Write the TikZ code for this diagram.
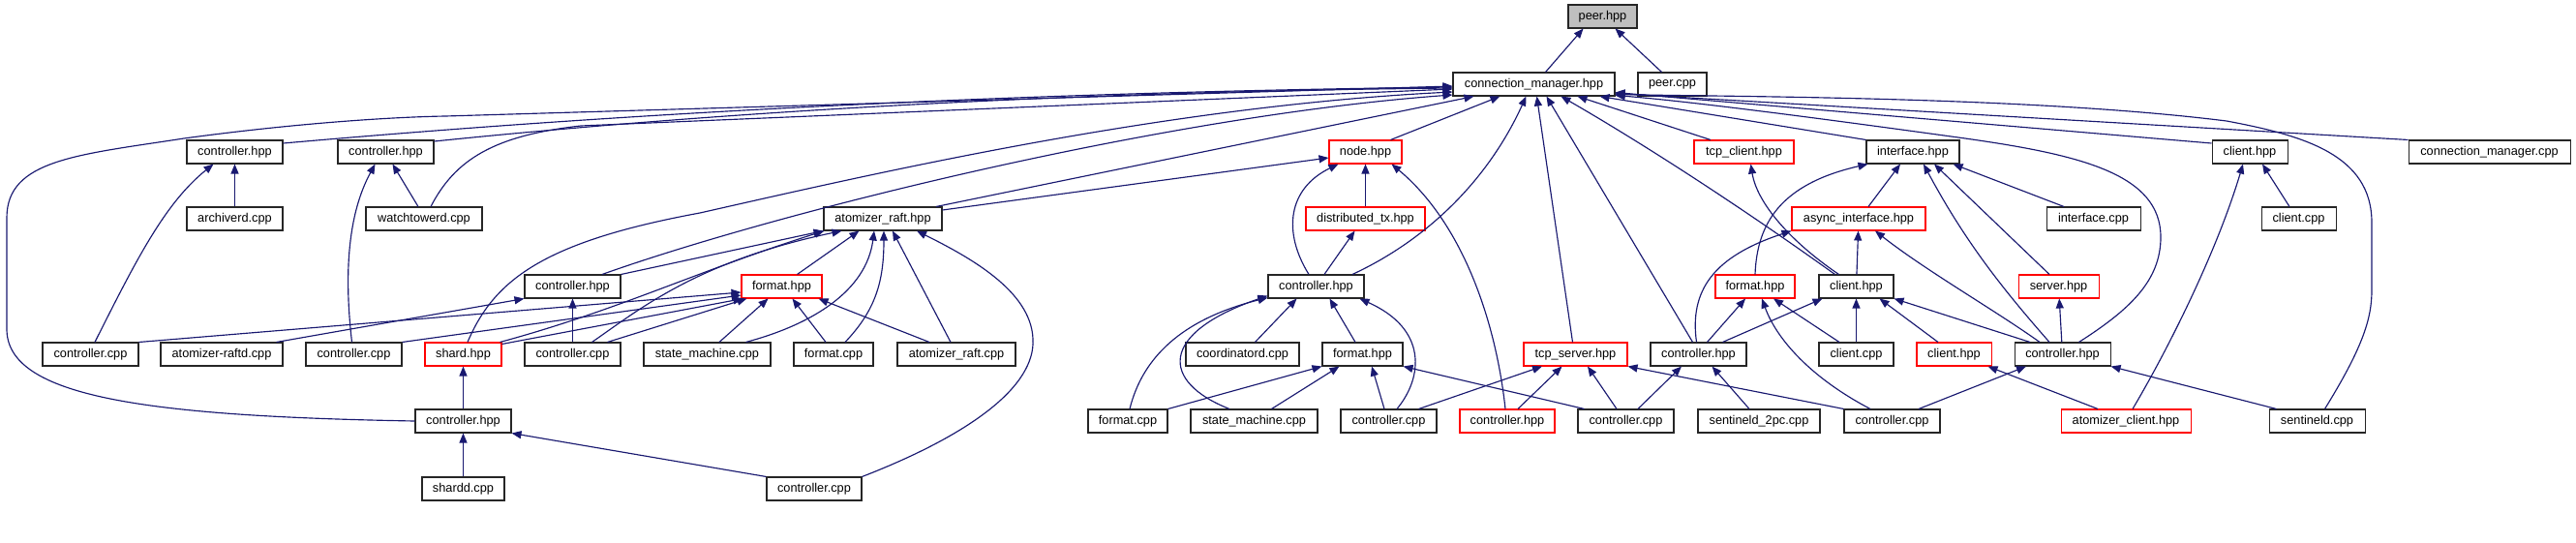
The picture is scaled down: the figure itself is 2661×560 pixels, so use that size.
\documentclass[tikz,border=0pt]{standalone}
\usepackage{fontspec}
\setmainfont{Liberation Sans}
\usetikzlibrary{arrows.meta}
\definecolor{edgeblue}{HTML}{191970}
\definecolor{truncred}{HTML}{FF0000}
\definecolor{rootgray}{HTML}{BFBFBF}
\tikzset{
  box/.style={draw=black!85, line width=1.05pt, fill=white, minimum height=24pt, inner sep=0pt, font={\fontsize{12.75}{15}\selectfont}},
  trunc/.style={box, draw=truncred},
  dep/.style={draw=edgeblue, line width=1.15pt, -{Triangle[length=10pt,width=8pt]}}
}
\begin{document}
\begin{tikzpicture}[x=1pt,y=-1pt]
\useasboundingbox (0,0) rectangle (2661,560);
% row 0/1
\node[box,minimum width=71pt,fill=rootgray] (peer) at (1655.5,17) {peer.hpp};
\node[box,minimum width=167pt] (cm) at (1584.5,87) {connection\_manager.hpp};
\node[box,minimum width=71pt] (peercpp) at (1727.5,87) {peer.cpp};
% row 2
\node[box,minimum width=99pt] (ctrlA1) at (242.5,157) {controller.hpp};
\node[box,minimum width=99pt] (ctrlA2) at (398.5,157) {controller.hpp};
\node[trunc,minimum width=75pt] (nodehpp) at (1410.5,157) {node.hpp};
\node[trunc,minimum width=103pt] (tcpclient) at (1801.5,157) {tcp\_client.hpp};
\node[box,minimum width=96pt] (iface) at (1976,157) {interface.hpp};
\node[box,minimum width=78pt] (clientA) at (2324,157) {client.hpp};
\node[box,minimum width=167pt] (cmcpp) at (2571.5,157) {connection\_manager.cpp};
% row 3
\node[box,minimum width=99pt] (archiverd) at (242.5,226) {archiverd.cpp};
\node[box,minimum width=120pt] (watchtowerd) at (438,226) {watchtowerd.cpp};
\node[box,minimum width=122pt] (araft) at (912,226) {atomizer\_raft.hpp};
\node[trunc,minimum width=123pt] (dtx) at (1410.5,226) {distributed\_tx.hpp};
\node[trunc,minimum width=138pt] (async) at (1920,226) {async\_interface.hpp};
\node[box,minimum width=97pt] (ifacecpp) at (2162.5,226) {interface.cpp};
\node[box,minimum width=77pt] (clientcppA) at (2374.5,226) {client.cpp};
% row 4
\node[box,minimum width=99pt] (ctrlR) at (591.5,296) {controller.hpp};
\node[trunc,minimum width=83pt] (fmtR) at (807.5,296) {format.hpp};
\node[box,minimum width=99pt] (ctrlC) at (1359.5,296) {controller.hpp};
\node[trunc,minimum width=82pt] (fmtS) at (1813,296) {format.hpp};
\node[box,minimum width=77pt] (clientB) at (1917.5,296) {client.hpp};
\node[trunc,minimum width=83pt] (server) at (2126.5,296) {server.hpp};
% row 5
\node[box,minimum width=99pt] (ccppArch) at (93.5,366) {controller.cpp};
\node[box,minimum width=126pt] (raftd) at (229,366) {atomizer-raftd.cpp};
\node[box,minimum width=99pt] (ccppWatch) at (365.5,366) {controller.cpp};
\node[trunc,minimum width=79pt] (shard) at (478.5,366) {shard.hpp};
\node[box,minimum width=99pt] (ccppR) at (591.5,366) {controller.cpp};
\node[box,minimum width=131pt] (smR) at (730.5,366) {state\_machine.cpp};
\node[box,minimum width=82pt] (fmtcppR) at (861,366) {format.cpp};
\node[box,minimum width=122pt] (raftcpp) at (988,366) {atomizer\_raft.cpp};
\node[box,minimum width=117pt] (coord) at (1283.5,366) {coordinatord.cpp};
\node[box,minimum width=83pt] (fmtC) at (1407.5,366) {format.hpp};
\node[trunc,minimum width=107pt] (tcpserver) at (1627.5,366) {tcp\_server.hpp};
\node[box,minimum width=99pt] (ctrlS) at (1754.5,366) {controller.hpp};
\node[box,minimum width=77pt] (clientcppB) at (1917.5,366) {client.cpp};
\node[trunc,minimum width=77pt] (clientR) at (2018.5,366) {client.hpp};
\node[box,minimum width=99pt] (ctrlI) at (2130.5,366) {controller.hpp};
% row 6
\node[box,minimum width=99pt] (ctrlSh) at (478.5,435) {controller.hpp};
\node[box,minimum width=82pt] (fmtcppC) at (1165,435) {format.cpp};
\node[box,minimum width=131pt] (smC) at (1295.5,435) {state\_machine.cpp};
\node[box,minimum width=99pt] (ccppC) at (1434.5,435) {controller.cpp};
\node[trunc,minimum width=98pt] (ctrlRed) at (1557,435) {controller.hpp};
\node[box,minimum width=99pt] (ccppT) at (1679.5,435) {controller.cpp};
\node[box,minimum width=126pt] (sent2pc) at (1817,435) {sentineld\_2pc.cpp};
\node[box,minimum width=99pt] (ccppS) at (1954.5,435) {controller.cpp};
\node[trunc,minimum width=134pt] (atomclient) at (2196,435) {atomizer\_client.hpp};
\node[box,minimum width=99pt] (sentineld) at (2393.5,435) {sentineld.cpp};
% row 7
\node[box,minimum width=85pt] (shardd) at (478.5,505) {shardd.cpp};
\node[box,minimum width=98pt] (ccppSh) at (841,505) {controller.cpp};

% edges to peer.hpp
\draw[dep] ([xshift=12pt]cm.north) -- ([xshift=-20pt]peer.south);
\draw[dep] ([xshift=-11pt]peercpp.north) -- ([xshift=13pt]peer.south);
% edges to connection_manager.hpp
\draw[dep] ([yshift=9pt]ctrlA1.east) .. controls (700,112) and (1100,95) .. ([yshift=-3pt]cm.west);
\draw[dep] ([yshift=11pt]ctrlA2.east) .. controls (750,115) and (1100,95) .. ([yshift=-4pt]cm.west);
\draw[dep] (ctrlSh.west) .. controls (150,430) and (7,410) .. (7,340) -- (7,225) .. controls (7,165) and (80,160) .. (190,143) .. controls (300,128) and (400,121) .. (460,120) -- ([yshift=-2pt]cm.west);
\draw[dep] ([xshift=7pt]watchtowerd.north) .. controls (470,165) and (510,140) .. (600,130) -- ([yshift=-5pt]cm.west);
\draw[dep] ([xshift=4.5pt]shard.north) .. controls (510,290) and (560,250) .. (723,220) .. controls (900,180) and (1200,110) .. ([yshift=-8pt]cm.west);
\draw[dep] ([xshift=30.5pt]ctrlR.north) .. controls (800,220) and (1200,120) .. ([yshift=-11pt]cm.west);
\draw[dep] ([xshift=55pt]araft.north) -- ([xshift=22pt]cm.south west);
\draw[dep] ([xshift=26pt]nodehpp.north) -- ([xshift=49pt]cm.south west);
\draw[dep] ([xshift=37.5pt]ctrlC.north) .. controls (1480,245) and (1540,180) .. ([xshift=76pt]cm.south west);
\draw[dep] ([xshift=-3pt]tcpserver.north) -- ([xshift=87pt]cm.south west);
\draw[dep] ([xshift=-6pt]ctrlS.north) -- ([xshift=97pt]cm.south west);
\draw[dep] ([xshift=-22pt]clientB.north) .. controls (1800,215) and (1700,150) .. ([xshift=112pt]cm.south west);
\draw[dep] ([xshift=-34.5pt]tcpclient.north) -- ([xshift=129pt]cm.south west);
\draw[dep] (iface.north west) -- ([xshift=152pt]cm.south west);
\draw[dep] ([xshift=17pt]ctrlI.north) .. controls (2200,320) and (2232,290) .. (2232,245) .. controls (2232,180) and (2150,160) .. (2030,143) .. controls (1900,125) and (1750,105) .. ([yshift=1pt]cm.south east);
\draw[dep] ([xshift=8pt]sentineld.north) .. controls (2440,360) and (2450,330) .. (2450,300) -- (2450,230) .. controls (2450,160) and (2380,140) .. (2300,125) .. controls (2100,100) and (1800,100) .. ([yshift=2pt]cm.south east);
\draw[dep] (cmcpp.north west) -- ([yshift=3pt]cm.south east);
\draw[dep] ([yshift=9pt]clientA.west) -- ([yshift=4pt]cm.south east);
% left group
\draw[dep] (archiverd) -- (ctrlA1);
\draw[dep] ([xshift=4.5pt]ccppArch.north) .. controls (140,270) and (170,210) .. ([xshift=-22pt]ctrlA1.south);
\draw[dep] ([xshift=-2pt]ccppWatch.north) .. controls (355,280) and (360,220) .. ([xshift=-11pt]ctrlA2.south);
\draw[dep] ([xshift=-6pt]watchtowerd.north) -- ([xshift=7pt]ctrlA2.south);
% atomizer_raft.hpp
\draw[dep] (ctrlR.north east) -- (araft.south west);
\draw[dep] ([xshift=-2pt]shard.north east) .. controls (640,320) and (720,280) .. ([xshift=1pt]araft.south west);
\draw[dep] ([xshift=20pt]ccppR.north) .. controls (660,320) and (720,270) .. ([xshift=19pt]araft.south west);
\draw[dep] ([xshift=16pt]fmtR.north) -- ([xshift=37pt]araft.south west);
\draw[dep] ([xshift=40pt]smR.north) .. controls (840,335) and (895,300) .. ([xshift=-9pt]araft.south);
\draw[dep] ([xshift=12pt]fmtcppR.north) .. controls (905,320) and (913,290) .. ([xshift=1pt]araft.south);
\draw[dep] ([xshift=-6pt]raftcpp.north) -- ([xshift=10pt]araft.south);
\draw[dep] (ccppSh.north east) .. controls (1000,450) and (1070,400) .. (1067,350) .. controls (1065,300) and (1000,265) .. ([xshift=35pt]araft.south);
\draw[dep] ([yshift=9pt]araft.east) -- ([yshift=-6pt]nodehpp.west);
% raft controller / format
\draw[dep] ([xshift=-7pt]raftd.north east) -- (ctrlR.south west);
\draw[dep] (ccppR) -- (ctrlR);
\draw[dep] (ccppArch.north east) -- ([yshift=-6pt]fmtR.west);
\draw[dep] (ccppWatch.north east) -- ([yshift=-9pt]fmtR.west);
\draw[dep] ([yshift=-2pt]shard.north east) -- ([xshift=2pt]fmtR.south west);
\draw[dep] ([xshift=36pt]ccppR.north) -- ([xshift=6pt]fmtR.south west);
\draw[dep] ([xshift=12.5pt]smR.north) -- ([xshift=-14pt]fmtR.south);
\draw[dep] ([xshift=-8pt]fmtcppR.north) -- ([xshift=11pt]fmtR.south);
\draw[dep] ([xshift=-28pt]raftcpp.north) -- ([xshift=-4pt]fmtR.south east);
% shard
\draw[dep] (ctrlSh) -- (shard);
\draw[dep] (shardd) -- (ctrlSh);
\draw[dep] (ccppSh.north west) -- (ctrlSh.south east);
% node.hpp group
\draw[dep] (dtx) -- (nodehpp);
\draw[dep] ([xshift=-7.5pt]ctrlC.north) .. controls (1325,240) and (1330,195) .. ([xshift=-28pt]nodehpp.south);
\draw[dep] ([xshift=-2pt]ctrlRed.north) .. controls (1545,330) and (1510,230) .. ([xshift=27pt]nodehpp.south);
\draw[dep] ([xshift=8.5pt]ctrlC.north) -- ([xshift=-11pt]dtx.south);
\draw[dep] ([xshift=13pt]coord.north) -- ([xshift=-20pt]ctrlC.south);
\draw[dep] ([xshift=-7.5pt]fmtC.north) -- ([xshift=14pt]ctrlC.south);
\draw[dep] ([xshift=8.5pt]ccppC.north) .. controls (1470,390) and (1475,340) .. ([xshift=45pt]ctrlC.south);
\draw[dep] ([xshift=2pt]fmtcppC.north) .. controls (1180,370) and (1220,330) .. ([yshift=1pt]ctrlC.south west);
\draw[dep] ([xshift=-25.5pt]smC.north) .. controls (1200,395) and (1195,345) .. ([yshift=3pt]ctrlC.south west);
\draw[dep] (fmtcppC.north east) -- (fmtC.south west);
\draw[dep] ([xshift=18pt]smC.north) -- ([xshift=-24pt]fmtC.south);
\draw[dep] ([xshift=-4.5pt]ccppC.north) -- ([xshift=9.5pt]fmtC.south);
\draw[dep] ([xshift=7pt]ccppT.north west) -- (fmtC.south east);
% tcp_server / sentinel
\draw[dep] ([xshift=-19pt]ccppC.north east) -- ([xshift=-34.5pt]tcpserver.south);
\draw[dep] ([xshift=11pt]ctrlRed.north) -- ([xshift=-14pt]tcpserver.south);
\draw[dep] ([xshift=-9.5pt]ccppT.north) -- ([xshift=12.5pt]tcpserver.south);
\draw[dep] (ccppS.north west) -- (tcpserver.south east);
\draw[dep] ([xshift=12.5pt]ccppT.north) -- ([xshift=-17.5pt]ctrlS.south);
\draw[dep] ([xshift=-10pt]sent2pc.north) -- ([xshift=14pt]ctrlS.south);
\draw[dep] ([xshift=-2pt]ctrlS.north) .. controls (1745,300) and (1770,265) .. (async.south west);
\draw[dep] ([xshift=25pt]ctrlS.north) -- ([xshift=4pt]clientB.south west);
\draw[dep] ([xshift=9pt]ctrlS.north) -- ([xshift=-10pt]fmtS.south);
% client / interface
\draw[dep] (clientB) -- (async);
\draw[dep] ([xshift=-18pt]clientB.north) .. controls (1850,250) and (1815,210) .. ([xshift=7pt]tcpclient.south);
\draw[dep] (clientcppB) -- (clientB);
\draw[dep] ([xshift=-16.5pt]clientR.north) -- ([xshift=-15pt]clientB.south east);
\draw[dep] ([xshift=-33.5pt]ctrlI.north) -- (clientB.south east);
\draw[dep] (fmtS.north) .. controls (1815,230) and (1840,190) .. ([xshift=2pt]iface.south west);
\draw[dep] ([xshift=-17.5pt]clientcppB.north) -- ([xshift=19pt]fmtS.south);
\draw[dep] ([xshift=-22.5pt]ccppS.north) .. controls (1870,390) and (1835,350) .. ([xshift=7pt]fmtS.south);
\draw[dep] ([xshift=10pt]async.north) -- ([xshift=-13pt]iface.south);
\draw[dep] ([xshift=-23.5pt]ctrlI.north) .. controls (2060,320) and (1990,280) .. ([xshift=17pt]async.south);
\draw[dep] ([xshift=-13.5pt]ctrlI.north) .. controls (2070,300) and (2030,250) .. ([xshift=11pt]iface.south);
\draw[dep] ([xshift=-9.5pt]server.north) -- ([xshift=22pt]iface.south);
\draw[dep] ([xshift=-30.5pt]ifacecpp.north) -- ([xshift=-7pt]iface.south east);
\draw[dep] (ctrlI) -- (server);
\draw[dep] ([xshift=27.5pt]ccppS.north) -- ([xshift=-37.5pt]ctrlI.south);
\draw[dep] ([xshift=8pt]sentineld.north west) -- (ctrlI.south east);
\draw[dep] ([xshift=-29pt]atomclient.north) -- ([xshift=-4pt]clientR.south east);
\draw[dep] ([xshift=7pt]atomclient.north) .. controls (2240,360) and (2290,260) .. ([xshift=-7pt]clientA.south);
\draw[dep] ([xshift=-9.5pt]clientcppA.north) -- ([xshift=13pt]clientA.south);
\end{tikzpicture}
\end{document}
